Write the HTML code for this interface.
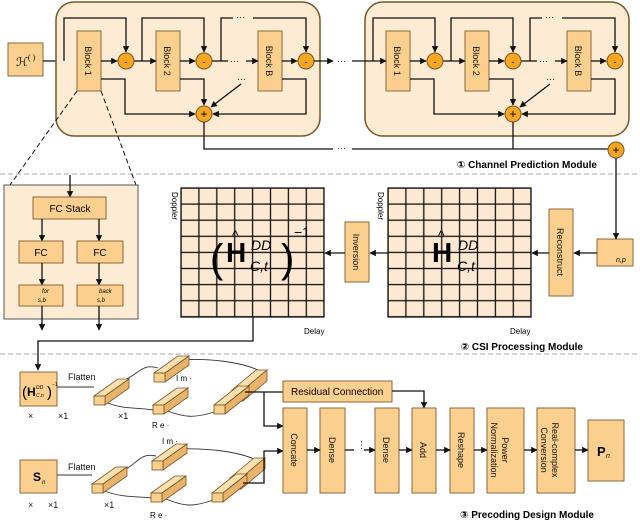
<!DOCTYPE html>
<html><head><meta charset="utf-8"><style>
html,body{margin:0;padding:0;background:#fff}
svg{display:block;font-family:"Liberation Sans","DejaVu Sans",sans-serif}
.b{fill:#fbcf8e;stroke:#8a6a3a;stroke-width:1}
.l{stroke:#111;stroke-width:1.3;fill:none}
.t{font-size:9px;fill:#111}
</style></head><body>
<svg width="640" height="520" viewBox="0 0 640 520" xmlns="http://www.w3.org/2000/svg">
<defs>
<marker id="a" viewBox="0 0 10 10" refX="9" refY="5" markerWidth="5" markerHeight="5" orient="auto"><path d="M0,0L10,5L0,10z" fill="#111"/></marker>
<pattern id="g1" x="181" y="188" width="17.9" height="16.1" patternUnits="userSpaceOnUse"><rect width="17.9" height="16.1" fill="#fde9d2" stroke="#111" stroke-width="1.3"/></pattern>
<pattern id="g2" x="388" y="188" width="17.9" height="16.1" patternUnits="userSpaceOnUse"><rect width="17.9" height="16.1" fill="#fde9d2" stroke="#111" stroke-width="1.3"/></pattern>
</defs>

<rect x="8" y="43" width="35" height="33" class="b"/>
<text x="16" y="66" style="font-size:12px;font-family:'Liberation Serif',serif">ℋ<tspan dy="-6" font-size="8">(  )</tspan></text>
<line x1="43" y1="61" x2="77" y2="61" class="l" marker-end="url(#a)"/>

<g id="mod">
<rect x="56" y="2" width="264" height="134" rx="18" fill="#fdebd3" stroke="#7a5522" stroke-width="1.5"/>
<rect x="77" y="31" width="24" height="60" class="b"/>
<rect x="156" y="31" width="24" height="60" class="b"/>
<rect x="258" y="31" width="24" height="60" class="b"/>
<text transform="translate(85,61) rotate(90)" class="t" text-anchor="middle">Block 1</text>
<text transform="translate(164,61) rotate(90)" class="t" text-anchor="middle">Block 2</text>
<text transform="translate(266,61) rotate(90)" class="t" text-anchor="middle">Block B</text>
<path d="M64,61V18H126V52" class="l" marker-end="url(#a)"/>
<path d="M142,61V18H204V52" class="l" marker-end="url(#a)"/>
<path d="M221,61V18H233M253,18H306V52" class="l" marker-end="url(#a)"/>
<text x="236" y="20" class="t">···</text>
<line x1="101" y1="61" x2="117" y2="61" class="l" marker-end="url(#a)"/>
<line x1="134" y1="61" x2="156" y2="61" class="l" marker-end="url(#a)"/>
<line x1="180" y1="61" x2="195" y2="61" class="l" marker-end="url(#a)"/>
<path d="M212,61H228" class="l"/><text x="230" y="64" class="t">···</text>
<line x1="246" y1="61" x2="258" y2="61" class="l" marker-end="url(#a)"/>
<line x1="282" y1="61" x2="297" y2="61" class="l" marker-end="url(#a)"/>
<path d="M101,79H125V114H195" class="l" marker-end="url(#a)"/>
<path d="M180,79H204V105" class="l" marker-end="url(#a)"/>
<path d="M282,79H306V114H213" class="l" marker-end="url(#a)"/>
<line x1="241" y1="84" x2="211" y2="107" class="l" marker-end="url(#a)"/>
<text x="237" y="82" class="t">···</text>
<circle cx="126" cy="61" r="8" fill="#f5a623" stroke="#7a5522"/><text x="126" y="65" class="t" text-anchor="middle">-</text>
<circle cx="204" cy="61" r="8" fill="#f5a623" stroke="#7a5522"/><text x="204" y="65" class="t" text-anchor="middle">-</text>
<circle cx="306" cy="61" r="8" fill="#f5a623" stroke="#7a5522"/><text x="306" y="65" class="t" text-anchor="middle">-</text>
<circle cx="204" cy="114" r="8" fill="#f5a623" stroke="#7a5522"/><text x="204" y="118" style="font-size:12px" text-anchor="middle">+</text>
</g>
<use href="#mod" x="309"/>
<path d="M314,61H333" class="l" marker-end="url(#a)"/><text x="337" y="64" class="t">···</text><line x1="352" y1="61" x2="386" y2="61" class="l" marker-end="url(#a)"/>
<path d="M204,122V149H333M352,149H608" class="l"/><text x="337" y="151" class="t">···</text>
<path d="M513,122V149" class="l"/>
<circle cx="616" cy="150" r="8" fill="#f5a623" stroke="#7a5522"/><text x="616" y="154" style="font-size:12px" text-anchor="middle">+</text>
<text x="597" y="168" text-anchor="end" style="font-size:10px;font-weight:bold">① Channel Prediction Module</text>

<line x1="0" y1="174" x2="640" y2="174" stroke="#9aa9b8" stroke-dasharray="5,3"/>
<line x1="77" y1="91" x2="10" y2="185" stroke="#111" stroke-dasharray="5,3"/>
<line x1="101" y1="91" x2="136" y2="185" stroke="#111" stroke-dasharray="5,3"/>

<rect x="4" y="185" width="134" height="134" fill="#fdebd3" stroke="#555"/>
<line x1="70" y1="175" x2="70" y2="197" class="l" marker-end="url(#a)"/>
<rect x="33" y="197" width="73" height="22" class="b"/><text x="70" y="212" style="font-size:10px" text-anchor="middle">FC Stack</text>
<line x1="42" y1="219" x2="42" y2="241" class="l" marker-end="url(#a)"/>
<line x1="99" y1="219" x2="99" y2="241" class="l" marker-end="url(#a)"/>
<rect x="19" y="241" width="44" height="22" class="b"/><text x="41" y="256" style="font-size:10px" text-anchor="middle">FC</text>
<rect x="77" y="241" width="46" height="22" class="b"/><text x="100" y="256" style="font-size:10px" text-anchor="middle">FC</text>
<line x1="42" y1="263" x2="42" y2="285" class="l" marker-end="url(#a)"/>
<line x1="99" y1="263" x2="99" y2="285" class="l" marker-end="url(#a)"/>
<rect x="19" y="285" width="44" height="21" class="b"/><text x="42" y="293" style="font-size:6px;font-style:italic">for</text><text x="38" y="302" style="font-size:6px;font-style:italic">s,b</text>
<rect x="77" y="285" width="46" height="21" class="b"/><text x="99" y="293" style="font-size:6px;font-style:italic">back</text><text x="97" y="302" style="font-size:6px;font-style:italic">s,b</text>
<line x1="42" y1="306" x2="42" y2="330" class="l" marker-end="url(#a)"/>
<line x1="99" y1="306" x2="99" y2="330" class="l" marker-end="url(#a)"/>

<rect x="181" y="188" width="143" height="129" fill="url(#g1)" stroke="#111" stroke-width="1.3"/>
<rect x="388" y="188" width="143" height="129" fill="url(#g2)" stroke="#111" stroke-width="1.3"/>
<text transform="translate(172,192) rotate(90)" style="font-size:8px">Doppler</text>
<text transform="translate(378,192) rotate(90)" style="font-size:8px">Doppler</text>
<text x="304" y="334" style="font-size:8px">Delay</text>
<text x="510" y="334" style="font-size:8px">Delay</text>
<text x="210" y="272" style="font-size:40px">(</text>
<text x="226" y="262" style="font-size:28px;font-weight:bold">H</text><text x="232" y="240" style="font-size:14px">^</text>
<text x="251" y="250" style="font-size:14px;font-style:italic">DD</text><text x="250" y="271" style="font-size:14px;font-style:italic">C,t</text>
<text x="281" y="272" style="font-size:40px">)</text><text x="294" y="237" style="font-size:14px">−1</text>
<text x="432" y="262" style="font-size:28px;font-weight:bold">H</text><text x="438" y="240" style="font-size:14px">^</text>
<text x="458" y="250" style="font-size:14px;font-style:italic">DD</text><text x="457" y="271" style="font-size:14px;font-style:italic">C,t</text>
<rect x="345" y="222" width="24" height="60" class="b"/><text transform="translate(353,252) rotate(90)" class="t" text-anchor="middle">Inversion</text>
<rect x="549" y="209" width="24" height="87" class="b"/><text transform="translate(557,252) rotate(90)" class="t" text-anchor="middle">Reconstruct</text>
<rect x="597" y="239" width="36" height="27" class="b"/><text x="616" y="262" style="font-size:7px;font-style:italic">n,p</text>
<line x1="616" y1="158" x2="616" y2="239" class="l" marker-end="url(#a)"/>
<line x1="597" y1="253" x2="574" y2="253" class="l" marker-end="url(#a)"/>
<line x1="549" y1="253" x2="532" y2="253" class="l" marker-end="url(#a)"/>
<line x1="388" y1="253" x2="370" y2="253" class="l" marker-end="url(#a)"/>
<line x1="345" y1="253" x2="325" y2="253" class="l" marker-end="url(#a)"/>
<path d="M253,317V341H38V370" class="l" marker-end="url(#a)"/>
<text x="583" y="350" text-anchor="end" style="font-size:10px;font-weight:bold">② CSI Processing Module</text>
<line x1="0" y1="354" x2="640" y2="354" stroke="#9aa9b8" stroke-dasharray="5,3"/>

<rect x="20" y="372" width="37" height="34" class="b"/>
<text x="22" y="397" style="font-size:15px">(</text><text x="27" y="396" style="font-size:12px;font-weight:bold">H</text><text x="36" y="389" style="font-size:5px;font-style:italic">DD</text><text x="36" y="397" style="font-size:5px;font-style:italic">C,n</text><text x="47" y="397" style="font-size:15px">)</text><text x="52" y="386" style="font-size:5px">−1</text>
<rect x="20" y="460" width="37" height="33" class="b"/><text x="33" y="481" style="font-size:12px;font-weight:bold">S</text><text x="42" y="484" style="font-size:6px;font-style:italic">n</text>
<text x="28" y="419" class="t">×</text><text x="58" y="419" class="t">×1</text><text x="118" y="419" class="t">×1</text>
<text x="28" y="508" class="t">×</text><text x="48" y="508" class="t">×1</text><text x="104" y="508" class="t">×1</text>
<text x="68" y="380" class="t">Flatten</text><text x="68" y="470" class="t">Flatten</text>
<text x="176" y="381" style="font-size:8px">I m ·</text><text x="152" y="428" style="font-size:8px">R e ·</text>
<text x="162" y="444" style="font-size:8px">I m ·</text><text x="150" y="518" style="font-size:8px">R e ·</text>
<g stroke="#333" fill="none" stroke-width="0.9">
<path d="M57,387H94"/><path d="M57,475H92"/>
<path d="M118,383C140,375 140,363 158,368"/><path d="M105,402C125,410 135,407 153,410"/>
<path d="M180,360C210,358 240,362 258,370"/><path d="M165,410C185,418 195,418 214,412"/>
<path d="M117,473C138,466 138,452 156,456"/><path d="M104,491C124,498 134,496 152,498"/>
<path d="M178,449C210,448 240,452 256,460"/><path d="M164,498C184,507 194,507 213,500"/>
</g>
<g id="cub" stroke="#7a5522" stroke-width="0.8" fill="#fbcf8e">
<polygon points="94,396 118,379 129,379 105,396" fill="#fde0b0"/>
<polygon points="105,396 129,379 129,388 105,405" fill="#e8b36a"/>
<rect x="94" y="396" width="11" height="9" fill="#fbcf8e"/>
<polygon points="154,373 178,356 189,356 165,373" fill="#fde0b0"/>
<polygon points="165,373 189,356 189,365 165,382" fill="#e8b36a"/>
<rect x="154" y="373" width="11" height="9" fill="#fbcf8e"/>
<polygon points="153,405 177,388 188,388 164,405" fill="#fde0b0"/>
<polygon points="164,405 188,388 188,397 164,414" fill="#e8b36a"/>
<rect x="153" y="405" width="11" height="9" fill="#fbcf8e"/>
<polygon points="232,390 256,370 267,370 243,390" fill="#fde0b0"/>
<polygon points="243,390 267,370 267,381 243,401" fill="#e8b36a"/>
<rect x="232" y="390" width="11" height="11" fill="#fbcf8e"/>
<polygon points="214,405 238,386 249,386 225,405" fill="#fde0b0"/>
<polygon points="225,405 249,386 249,395 225,414" fill="#e8b36a"/>
<rect x="214" y="405" width="11" height="9" fill="#fbcf8e"/>
</g>
<use href="#cub" x="-2" y="88"/>
<path d="M245,392H283" class="l"/>
<path d="M264,392V426H283" class="l" marker-end="url(#a)"/>
<path d="M243,483H264V451H283" class="l" marker-end="url(#a)"/>
<rect x="283" y="381" width="109" height="21" class="b"/><text x="291" y="395" style="font-size:10px">Residual Connection</text>
<path d="M392,391H424V408" class="l" marker-end="url(#a)"/>
<rect x="283" y="408" width="24" height="85" class="b"/>
<rect x="320" y="408" width="25" height="85" class="b"/>
<rect x="375" y="408" width="24" height="85" class="b"/>
<rect x="412" y="408" width="24" height="85" class="b"/>
<rect x="450" y="408" width="24" height="85" class="b"/>
<rect x="487" y="408" width="37" height="85" class="b"/>
<rect x="537" y="408" width="38" height="85" class="b"/>
<rect x="588" y="420" width="36" height="61" class="b"/><text x="597" y="456" style="font-size:13px;font-weight:bold">P</text><text x="606" y="458" style="font-size:7px;font-style:italic">n</text>
<g class="t" text-anchor="middle">
<text transform="translate(291,450) rotate(90)">Concate</text>
<text transform="translate(329,450) rotate(90)">Dense</text>
<text transform="translate(383,450) rotate(90)">Dense</text>
<text transform="translate(420,450) rotate(90)">Add</text>
<text transform="translate(458,450) rotate(90)">Reshape</text>
<text transform="translate(502,450) rotate(90)">Power</text><text transform="translate(491,450) rotate(90)">Normalization</text>
<text transform="translate(552,450) rotate(90)">Real-complex</text><text transform="translate(541,450) rotate(90)">Conversion</text>
</g>
<line x1="307" y1="450" x2="320" y2="450" class="l" marker-end="url(#a)"/>
<path d="M345,450H354" class="l"/><text x="357" y="448" class="t">⋮</text>
<line x1="364" y1="450" x2="375" y2="450" class="l" marker-end="url(#a)"/>
<line x1="399" y1="450" x2="412" y2="450" class="l" marker-end="url(#a)"/>
<line x1="436" y1="450" x2="450" y2="450" class="l" marker-end="url(#a)"/>
<line x1="474" y1="450" x2="487" y2="450" class="l" marker-end="url(#a)"/>
<line x1="524" y1="450" x2="537" y2="450" class="l" marker-end="url(#a)"/>
<line x1="575" y1="450" x2="588" y2="450" class="l" marker-end="url(#a)"/>
<text x="594" y="518" text-anchor="end" style="font-size:10px;font-weight:bold">③ Precoding Design Module</text>
</svg>
</body></html>
